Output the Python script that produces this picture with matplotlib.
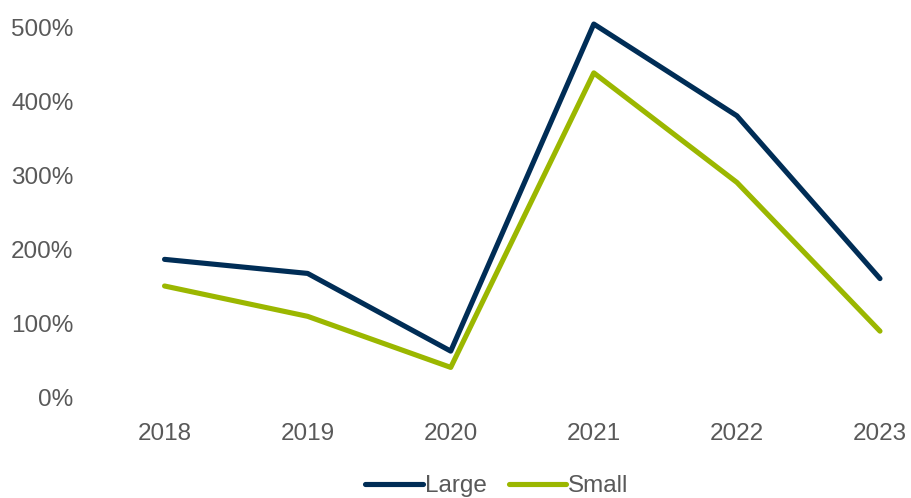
import matplotlib
matplotlib.use("Agg")
import matplotlib.pyplot as plt
from matplotlib.ticker import FuncFormatter

years = ["2018", "2019", "2020", "2021", "2022", "2023"]
large = [186, 167, 62, 504, 380, 160]
small = [150, 109, 40, 438, 290, 89]

navy = "#002D56"
green = "#9BB700"
grey = "#595959"

plt.rcParams["font.family"] = ["Liberation Sans", "DejaVu Sans"]

fig = plt.figure(figsize=(9.12, 4.98), dpi=100)
# plot area in pixel terms: x 94..912, y 27..397 (from top)
ax = fig.add_axes([93 / 912, 1 - 397 / 498, 1 - 93 / 912, 370 / 498])

x = range(len(years))
ax.plot(x, large, color=navy, lw=3.7, solid_capstyle="round",
        solid_joinstyle="round", clip_on=False, label="Large")
ax.plot(x, small, color=green, lw=3.7, solid_capstyle="round",
        solid_joinstyle="round", clip_on=False, label="Small")

ax.set_xlim(-0.5, (912 - 165) / 143)
ax.set_ylim(0, 500)
ax.set_xticks(list(x))
ax.set_xticklabels(years)
ax.set_yticks(range(0, 501, 100))
ax.yaxis.set_major_formatter(FuncFormatter(lambda v, p: f"{int(v)}%"))

ax.tick_params(axis="both", length=0, labelsize=17.5, labelcolor=grey)
ax.tick_params(axis="x", pad=19)
ax.tick_params(axis="y", pad=14)
for s in ax.spines.values():
    s.set_visible(False)

fig.legend(loc="center", bbox_to_anchor=(497 / 912, 1 - 486 / 498), ncol=2,
           frameon=False, fontsize=17.5, labelcolor=grey, handlelength=2.35,
           handletextpad=0.1, columnspacing=0.9, borderpad=0)

fig.savefig("out.png", dpi=100)
